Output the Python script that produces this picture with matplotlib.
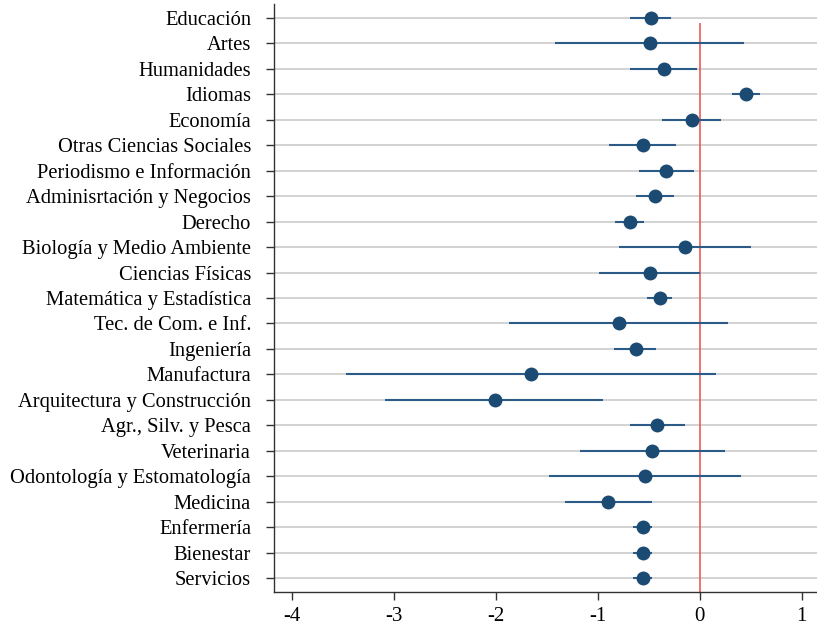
import numpy as np
import matplotlib.pyplot as plt

# categorias y coeficientes (con intervalos de confianza)
areas = ["Educación", "Artes", "Humanidades", "Idiomas", "Economía",
         "Otras Ciencias Sociales", "Periodismo e Información",
         "Adminisrtación y Negocios", "Derecho", "Biología y Medio Ambiente",
         "Ciencias Físicas", "Matemática y Estadística", "Tec. de Com. e Inf.",
         "Ingeniería", "Manufactura", "Arquitectura y Construcción",
         "Agr., Silv. y Pesca", "Veterinaria", "Odontología y Estomatología",
         "Medicina", "Enfermería", "Bienestar", "Servicios"]
coef = [-0.48, -0.49, -0.35, 0.45, -0.08, -0.56, -0.33, -0.44, -0.69, -0.15,
        -0.49, -0.39, -0.79, -0.63, -1.66, -2.01, -0.42, -0.47, -0.54, -0.90,
        -0.56, -0.56, -0.56]
ci_lo = [-0.69, -1.42, -0.69, 0.32, -0.37, -0.89, -0.60, -0.63, -0.83, -0.79,
         -0.99, -0.52, -1.87, -0.84, -3.47, -3.09, -0.69, -1.18, -1.48, -1.32,
         -0.66, -0.66, -0.66]
ci_hi = [-0.28, 0.43, -0.03, 0.59, 0.21, -0.23, -0.06, -0.25, -0.55, 0.50,
         0.00, -0.27, 0.28, -0.43, 0.16, -0.95, -0.15, 0.25, 0.40, -0.47,
         -0.47, -0.47, -0.47]

plt.rcParams['font.family'] = ['Liberation Serif', 'DejaVu Serif']

fig = plt.figure(figsize=(8.17, 6.27), dpi=100)
ax = fig.add_axes([0.3354, 0.0558, 0.6646, 0.9378])

y = np.arange(len(areas))
blue = '#1b4a73'

ax.hlines(y, ci_lo, ci_hi, color='#2b5b86', lw=1.5, zorder=3)
ax.plot(coef, y, 'o', color=blue, ms=9, zorder=4)
ax.vlines(0, 0.2, len(areas) - 0.45, color='#ee5a5a', lw=1.2, zorder=2)

ax.set_yticks(y)
ax.set_yticklabels(areas, fontsize=14.8)
ax.set_xticks([-4, -3, -2, -1, 0, 1])
ax.set_xticklabels(['-4', '-3', '-2', '-1', '0', '1'], fontsize=15)
ax.set_xlim(-4.18, 1.15)
ax.set_ylim(len(areas) - 0.45, -0.55)

ax.grid(axis='y', color='#cfcfcf', lw=1.3)
ax.set_axisbelow(True)
for s in ['top', 'right']:
    ax.spines[s].set_visible(False)
for s in ['left', 'bottom']:
    ax.spines[s].set_color('#333333')
    ax.spines[s].set_linewidth(1.0)
ax.tick_params(axis='both', length=6, color='#333333', width=1.0)
ax.tick_params(axis='y', pad=10.5)
ax.tick_params(axis='x', pad=5)

fig.savefig('out.png', dpi=100)
